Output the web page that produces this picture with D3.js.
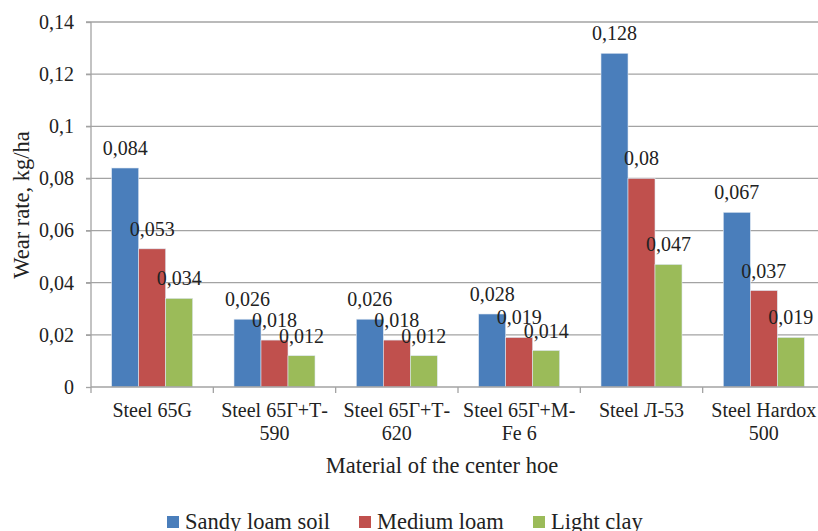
<!DOCTYPE html>
<html><head><meta charset="utf-8">
<script src="https://cdn.jsdelivr.net/npm/d3@7"></script>
<style>body{margin:0;background:#fff;overflow:hidden}svg{display:block}svg text,svg tspan{font-family:"Liberation Serif",Tinos,"Times New Roman",serif !important}</style>
</head><body><svg id="c" width="818" height="531" font-family="Liberation Serif"></svg>
<script>
const categories = [["Steel 65G"],["Steel 65Г+Т-","590"],["Steel 65Г+Т-","620"],["Steel 65Г+М-","Fe 6"],["Steel Л-53"],["Steel Hardox","500"]];
const seriesNames = ["Sandy loam soil","Medium loam","Light clay"];
const sandyLoam = [0.084,0.026,0.026,0.028,0.128,0.067];
const mediumLoam = [0.053,0.018,0.018,0.019,0.080,0.037];
const lightClay = [0.034,0.012,0.012,0.014,0.047,0.019];
const yTicks = [0,0.02,0.04,0.06,0.08,0.1,0.12,0.14];
const colors = ["#4A7EBB","#C0504D","#9BBB59"];
const series = [sandyLoam, mediumLoam, lightClay];
const FF = '"Liberation Serif", Tinos, "Times New Roman", serif';

const svg = d3.select("#c");
const L = 91, R = 825, T = 22, B = 387;
const fmt = v => String(+v.toFixed(3)).replace(".", ",");

const x = d3.scaleBand().domain(d3.range(categories.length)).range([L, R]).padding(0);
const y = d3.scaleLinear().domain([0, 0.14]).range([B, T]);
const groupW = 81;
const xs = d3.scaleBand().domain(d3.range(3)).range([0, groupW]).padding(0);

// gridlines
svg.append("g").selectAll("line").data(yTicks.filter(d => d > 0)).join("line")
  .attr("x1", L - 5).attr("x2", R).attr("y1", d => y(d)).attr("y2", d => y(d))
  .attr("stroke", "#a3a3a3").attr("stroke-width", 1.3);

// y axis
const ya = svg.append("g").attr("transform", `translate(${L},0)`)
  .call(d3.axisLeft(y).tickValues(yTicks).tickSize(5).tickPadding(12).tickFormat(fmt));
ya.attr("font-family", "Liberation Serif");
ya.select(".domain").attr("stroke", "#a3a3a3").attr("stroke-width", 1.3).attr("d", `M0,${T}V${B}`);
ya.selectAll(".tick line").attr("stroke", "#a3a3a3").attr("stroke-width", 1.3);
ya.selectAll(".tick text").attr("font-size", 20).attr("fill", "#222");

// bars
const gs = svg.append("g").selectAll("g").data(categories).join("g")
  .attr("transform", (d, i) => `translate(${x(i) + (x.bandwidth() - groupW) / 2},0)`);
gs.each(function(c, i) {
  const g = d3.select(this);
  series.forEach((s, k) => {
    g.append("rect").attr("x", xs(k)).attr("width", xs.bandwidth())
      .attr("y", y(s[i])).attr("height", B - y(s[i]))
      .attr("fill", colors[k]).attr("stroke", "#dce6f2").attr("stroke-width", 0.6);
  });
  series.forEach((s, k) => {
    g.append("text").attr("x", xs(k) + xs.bandwidth() / 2).attr("y", y(s[i]) - 13)
      .attr("text-anchor", "middle").attr("font-size", 20).attr("fill", "#222").text(fmt(s[i]));
  });
});

// x axis
const xa = svg.append("g");
xa.append("line").attr("x1", L).attr("x2", R).attr("y1", B).attr("y2", B).attr("stroke", "#a3a3a3").attr("stroke-width", 1.3);
xa.selectAll("line.t").data(d3.range(categories.length + 1)).join("line").attr("class", "t")
  .attr("x1", i => i < categories.length ? x(i) : R).attr("x2", i => i < categories.length ? x(i) : R)
  .attr("y1", B).attr("y2", B + 6).attr("stroke", "#a3a3a3").attr("stroke-width", 1.3);
xa.selectAll("text").data(categories).join("text")
  .attr("x", (d, i) => x(i) + x.bandwidth() / 2).attr("y", 417)
  .attr("text-anchor", "middle").attr("font-size", 20).attr("fill", "#222")
  .each(function(d) {
    const t = d3.select(this);
    d.forEach((line, j) => t.append("tspan").attr("x", t.attr("x")).attr("dy", j === 0 ? 0 : 23).text(line));
  });

// axis titles
svg.append("text").attr("x", 442).attr("y", 473).attr("text-anchor", "middle")
  .attr("font-size", 22.5).attr("fill", "#222").text("Material of the center hoe");
svg.append("text").attr("transform", "translate(29,205) rotate(-90)").attr("text-anchor", "middle")
  .attr("font-size", 22.5).attr("fill", "#222").text("Wear rate, kg/ha");

// legend
const legX = [167, 359, 533];
const lg = svg.append("g").selectAll("g").data(seriesNames).join("g")
  .attr("transform", (d, i) => `translate(${legX[i]},516)`);
lg.append("rect").attr("width", 12).attr("height", 12).attr("fill", (d, i) => colors[i]);
lg.append("text").attr("x", 18).attr("y", 13).attr("font-size", 22.5).attr("fill", "#222").text(d => d);

svg.selectAll("text").attr("font-family", "Liberation Serif").style("font-family", FF, "important");
</script></body></html>
